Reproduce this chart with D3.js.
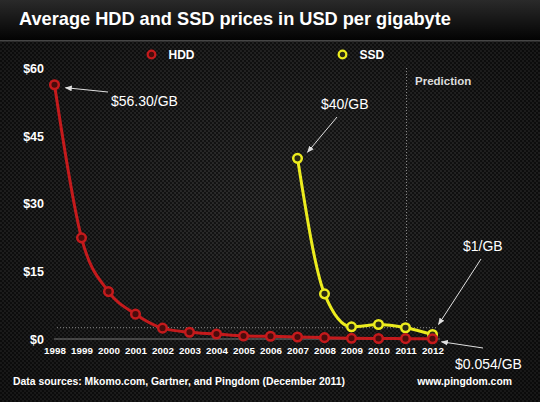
<!DOCTYPE html>
<html><head><meta charset="utf-8">
<script src="https://cdn.jsdelivr.net/npm/d3@7"></script>
<style>html,body{margin:0;padding:0;background:#000;}svg{display:block;}</style>
</head><body>
<script>
const years = [1998,1999,2000,2001,2002,2003,2004,2005,2006,2007,2008,2009,2010,2011,2012];
const hddPrices = [56.30,22.4,10.5,5.5,2.4,1.5,1.1,0.65,0.6,0.45,0.3,0.15,0.1,0.08,0.054];
const ssdYears = [2007,2008,2009,2010,2011,2012];
const ssdPrices = [40,10,2.7,3.2,2.5,1];
const yTicks = [0,15,30,45,60];
const yTickLabels = ["$0","$15","$30","$45","$60"];
const seriesNames = ["HDD","SSD"];
const predictionYear = 2011;
const guideValue = 2.5;

const W = 540, H = 402;
const svg = d3.select("body").append("svg").attr("width", W).attr("height", H);
const defs = svg.append("defs");

// background texture
const pat = defs.append("pattern").attr("id","hex").attr("patternUnits","userSpaceOnUse")
  .attr("width",4).attr("height",4);
pat.append("rect").attr("width",4).attr("height",4).attr("fill","#2e2e2e");
pat.append("circle").attr("cx",1).attr("cy",1).attr("r",1.2).attr("fill","#131313");
pat.append("circle").attr("cx",3).attr("cy",3).attr("r",1.2).attr("fill","#131313");

const vig = defs.append("radialGradient").attr("id","vig").attr("cx","50%").attr("cy","50%").attr("r","70%");
vig.append("stop").attr("offset","0%").attr("stop-color","#000").attr("stop-opacity",0);
vig.append("stop").attr("offset","100%").attr("stop-color","#000").attr("stop-opacity",0.5);

const tg = defs.append("linearGradient").attr("id","titleg").attr("x1",0).attr("y1",0).attr("x2",0).attr("y2",1);
tg.append("stop").attr("offset","0%").attr("stop-color","#2a2a2a");
tg.append("stop").attr("offset","100%").attr("stop-color","#030303");

svg.append("rect").attr("width",W).attr("height",H).attr("fill","url(#hex)");
svg.append("rect").attr("width",W).attr("height",H).attr("fill","url(#vig)");
svg.append("rect").attr("width",W).attr("height",40).attr("fill","url(#titleg)");
svg.append("rect").attr("y",40).attr("width",W).attr("height",1.5).attr("fill","#454545");

svg.append("text").attr("x",19).attr("y",25)
  .attr("font-family","Liberation Sans, Arial, sans-serif").attr("font-weight","bold")
  .attr("font-size",18.2).attr("fill","#fff")
  .text("Average HDD and SSD prices in USD per gigabyte");

const x = d3.scaleLinear().domain([1998,2012]).range([54.5,432.5]);
const y = d3.scaleLinear().domain([0,60]).range([339,68]);

const font = "Liberation Sans, Arial, sans-serif";

// baseline and guide
svg.append("line").attr("x1",54).attr("x2",440).attr("y1",y(0)).attr("y2",y(0))
  .attr("stroke","#777").attr("stroke-width",1);
svg.append("line").attr("x1",57).attr("x2",437).attr("y1",y(guideValue)).attr("y2",y(guideValue))
  .attr("stroke","#888").attr("stroke-width",1).attr("stroke-dasharray","1,2");
svg.append("line").attr("x1",x(predictionYear)+1).attr("x2",x(predictionYear)+1).attr("y1",68).attr("y2",y(0))
  .attr("stroke","#888").attr("stroke-width",1).attr("stroke-dasharray","1,2");
svg.append("text").attr("x",415).attr("y",85).attr("font-family",font).attr("font-weight","bold")
  .attr("font-size",11.5).attr("fill","#ddd").text("Prediction");

// y axis
const yAxis = d3.axisLeft(y).tickValues(yTicks).tickSize(0).tickPadding(0)
  .tickFormat((d,i)=>yTickLabels[i]);
const ya = svg.append("g").attr("transform","translate(44,0)").call(yAxis);
ya.select(".domain").remove();
ya.selectAll("text").attr("font-family",font).attr("font-weight","bold").attr("font-size",12.5)
  .attr("fill","#fff").attr("dy","0.35em");

// x axis
const xAxis = d3.axisBottom(x).tickValues(years).tickSize(0).tickPadding(0).tickFormat(d3.format("d"));
const xa = svg.append("g").attr("transform","translate(0,347.5)").call(xAxis);
xa.select(".domain").remove();
xa.selectAll("text").attr("font-family",font).attr("font-weight","bold").attr("font-size",9.8)
  .attr("fill","#fff").attr("dy","0.71em");

const line = d3.line().x(d=>x(d[0])).y(d=>y(d[1])).curve(d3.curveMonotoneX);
const hddData = years.map((yr,i)=>[yr,hddPrices[i]]);
const ssdData = ssdYears.map((yr,i)=>[yr,ssdPrices[i]]);
const red = "#c41a1c", yellow = "#ecec1e";

function drawSeries(data, color, fill){
  svg.append("path").datum(data).attr("d",line).attr("fill","none")
    .attr("stroke",color).attr("stroke-width",3);
  svg.append("g").selectAll("circle").data(data).join("circle")
    .attr("cx",d=>x(d[0])).attr("cy",d=>y(d[1])).attr("r",4.3)
    .attr("fill",fill).attr("stroke",color).attr("stroke-width",2.5);
}
drawSeries(ssdData, yellow, "#2a2a14");
drawSeries(hddData, red, "#4a0c0c");

// legend
const legend = [[151.5,red,"#4a0c0c",seriesNames[0]],[342.5,yellow,"#2a2a14",seriesNames[1]]];
legend.forEach(([lx,c,f,name])=>{
  svg.append("circle").attr("cx",lx).attr("cy",54.5).attr("r",3.8).attr("fill",f)
    .attr("stroke",c).attr("stroke-width",2.3);
  svg.append("text").attr("x",lx+17).attr("y",59).attr("font-family",font).attr("font-weight","bold")
    .attr("font-size",12).attr("fill","#fff").text(name);
});

// annotations
defs.append("marker").attr("id","ah").attr("viewBox","0 0 10 10").attr("refX",9).attr("refY",5)
  .attr("markerWidth",7).attr("markerHeight",7).attr("orient","auto")
  .append("path").attr("d","M0,1 L10,5 L0,9 Z").attr("fill","#e0e0e0");
const notes = [
  {t:"$56.30/GB", tx:111, ty:106, a:[108,92,x(1998)+11,y(56.3)+3]},
  {t:"$40/GB", tx:321, ty:109, a:[337,117,x(2007)+10,y(40)-6]},
  {t:"$1/GB", tx:463, ty:251, a:[481,259,x(2012)+6,y(1)-10]},
  {t:"$0.054/GB", tx:455, ty:369, a:[483,348,x(2012)+9,y(0.054)+3]}
];
notes.forEach(n=>{
  svg.append("text").attr("x",n.tx).attr("y",n.ty).attr("font-family",font)
    .attr("font-size",14).attr("fill","#fff").text(n.t);
  svg.append("line").attr("x1",n.a[0]).attr("y1",n.a[1]).attr("x2",n.a[2]).attr("y2",n.a[3])
    .attr("stroke","#e0e0e0").attr("stroke-width",1).attr("marker-end","url(#ah)");
});

// footer
svg.append("text").attr("x",13).attr("y",385).attr("font-family",font).attr("font-weight","bold")
  .attr("font-size",10.4).attr("fill","#fff").text("Data sources: Mkomo.com, Gartner, and Pingdom (December 2011)");
svg.append("text").attr("x",512).attr("y",385).attr("text-anchor","end").attr("font-family",font).attr("font-weight","bold")
  .attr("font-size",10.4).attr("fill","#fff").text("www.pingdom.com");
</script>
</body></html>
